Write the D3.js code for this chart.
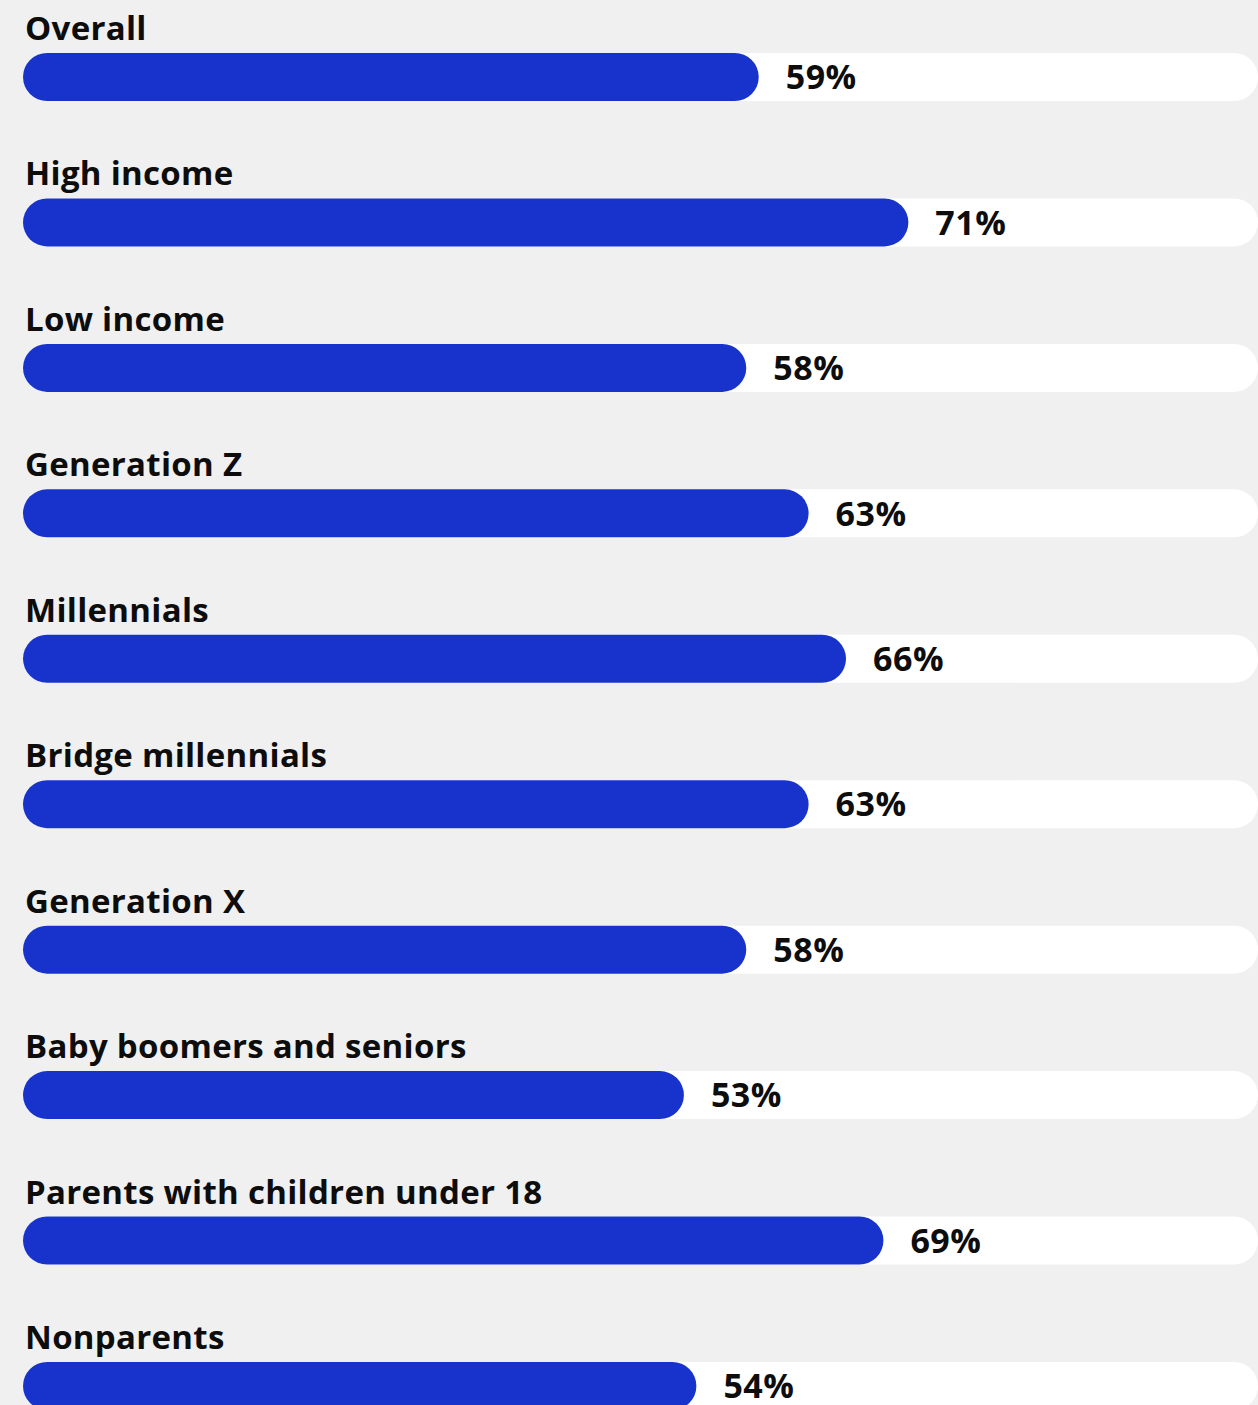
<!DOCTYPE html>
<html><head><meta charset="utf-8">
<script src="https://cdn.jsdelivr.net/npm/d3@7"></script>
<style>
html,body{margin:0;padding:0;background:#f0f0f0;}
svg{display:block;}
text{font-family:"Open Sans",sans-serif;font-weight:700;fill:#0d0d0d;}
</style></head><body>
<svg id="chart" width="1258" height="1405"></svg>
<script>
const categories = ["Overall","High income","Low income","Generation Z","Millennials","Bridge millennials","Generation X","Baby boomers and seniors","Parents with children under 18","Nonparents"];
const values = [59,71,58,63,66,63,58,53,69,54];
const valueLabels = values.map(v => v + "%");

const W = 1258, H = 1405;
const svg = d3.select("#chart");
const x = d3.scaleLinear().domain([0,100]).range([23,1270]);
const y = d3.scaleBand().domain(categories).range([53, 53 + 145.44*categories.length]).paddingInner(0);
const barH = 48;

const g = svg.selectAll("g.row").data(categories).join("g").attr("class","row")
  .attr("transform", d => `translate(0,${y(d)})`);

g.append("rect").attr("x", x(0)).attr("y",0).attr("width", W - x(0)).attr("height", barH)
  .attr("rx", 24).attr("fill","#ffffff");
g.append("rect").attr("x", x(0)).attr("y",0).attr("width",(d,i)=>x(values[i])-x(0)).attr("height",barH)
  .attr("rx",24).attr("fill","#1733cc");
g.append("text").attr("x",25).attr("y",-13).attr("font-size",33).attr("letter-spacing","0.3px").text(d=>d);
g.append("text").attr("x",(d,i)=>x(values[i])+27).attr("y",barH/2).attr("dy","0.36em")
  .attr("font-size",34).attr("letter-spacing","0.5px").text((d,i)=>valueLabels[i]);
</script></body></html>
